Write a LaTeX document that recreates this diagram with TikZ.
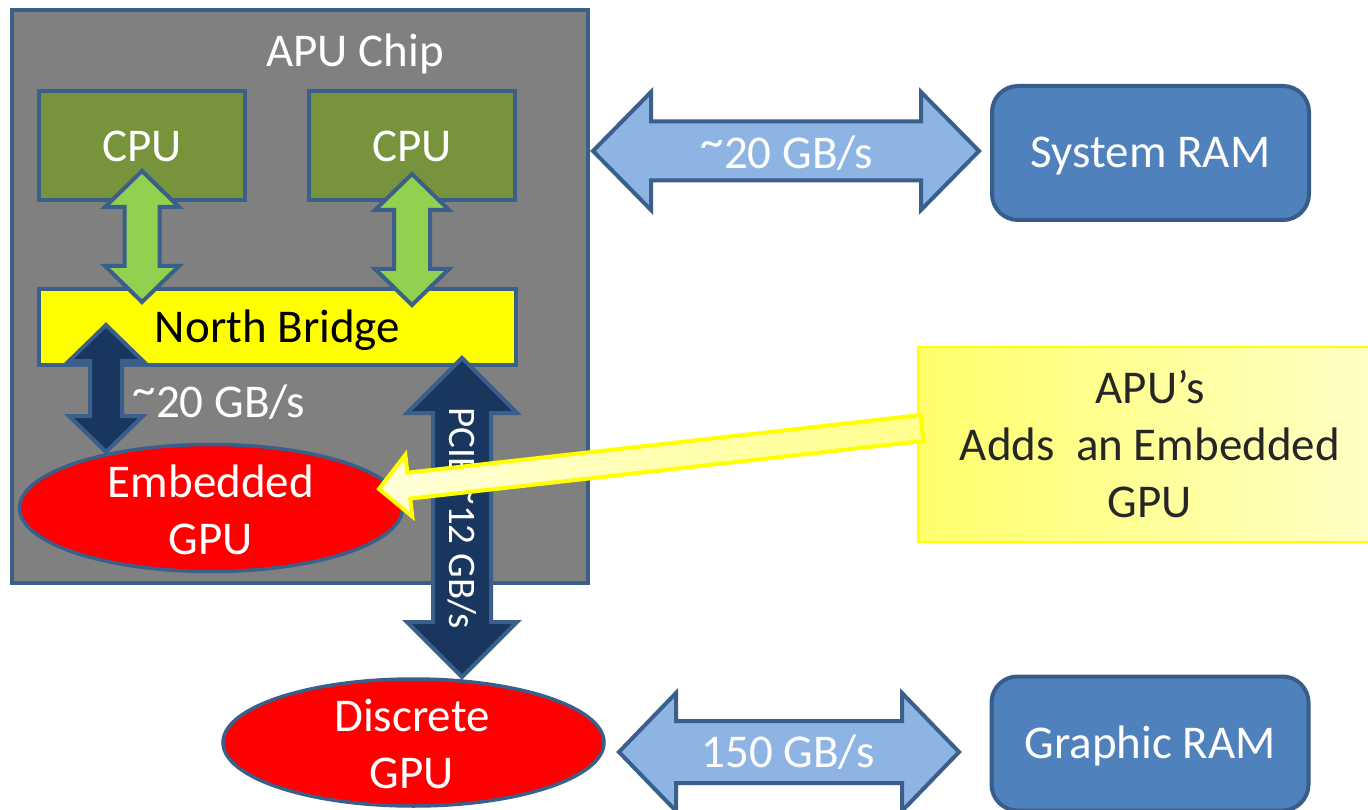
\documentclass[tikz,border=0pt]{standalone}
\usepackage{fontspec}
\setmainfont{Carlito}
\usetikzlibrary{calc,shapes.geometric}
\definecolor{bord}{HTML}{3A5F8B}
\definecolor{chipgray}{HTML}{808080}
\definecolor{cpugreen}{HTML}{77933C}
\definecolor{argreen}{HTML}{92D050}
\definecolor{navy}{HTML}{18365E}
\definecolor{lblue}{HTML}{8EB4E3}
\definecolor{ramblue}{HTML}{4F81BD}
\definecolor{ramborder}{HTML}{385D8A}
\definecolor{txtdark}{HTML}{262626}
\definecolor{nbyellow}{HTML}{FFFF00}
\newcommand\bigf{\fontsize{47}{57}\selectfont}
\newcommand\pcief{\fontsize{39}{47}\selectfont}
\newcommand\tld{\raisebox{0.25em}{\textasciitilde}}
% block double arrow: style, end A, end B, shaft half width, head half width, head length
\newcommand\dblarrow[6]{%
  \coordinate (da1) at ($(#2)!#6!(#3)$);
  \coordinate (da2) at ($(#3)!#6!(#2)$);
  \path[#1] (#2) -- ($(da1)!#5!90:(#3)$) -- ($(da1)!#4!90:(#3)$)
    -- ($(da2)!#4!-90:(#2)$) -- ($(da2)!#5!-90:(#2)$) -- (#3)
    -- ($(da2)!#5!90:(#2)$) -- ($(da2)!#4!90:(#2)$)
    -- ($(da1)!#4!-90:(#3)$) -- ($(da1)!#5!-90:(#3)$) -- cycle;
}
% block single arrow: style, tail, tip, shaft half width, head half width, head length
\newcommand\sglarrow[6]{%
  \coordinate (sa1) at ($(#3)!#6!(#2)$);
  \path[#1] ($(#2)!#4!90:(#3)$) -- ($(sa1)!#4!-90:(#2)$) -- ($(sa1)!#5!-90:(#2)$)
    -- (#3) -- ($(sa1)!#5!90:(#2)$) -- ($(sa1)!#4!90:(#2)$)
    -- ($(#2)!#4!-90:(#3)$) -- cycle;
}
\tikzset{
  capline/.style={text height=30pt, text depth=0pt},
  chipbox/.style={draw=bord, line width=4pt, fill=chipgray, minimum width=576pt, minimum height=573pt, inner sep=0pt},
  cpubox/.style={draw=bord, line width=4pt, fill=cpugreen, minimum width=206pt, minimum height=109pt, inner sep=0pt, text=white, font=\bigf, text height=33pt, text depth=0pt},
  nbbox/.style={draw=bord, line width=4pt, fill=nbyellow, minimum width=477pt, minimum height=76pt, inner sep=0pt, text=black, font=\bigf, text height=31pt, text depth=0pt},
  gpuell/.style={ellipse, draw=bord, line width=3.5pt, fill=red, inner sep=0pt},
  whitetxt/.style={text=white, font=\bigf, align=center, inner sep=0pt},
  rambox/.style={draw=ramborder, line width=4pt, fill=ramblue, rounded corners=26pt, minimum width=317pt, minimum height=134pt, inner sep=0pt, text=white, font=\bigf, capline},
  greenarrow/.style={draw=bord, line width=4pt, fill=argreen},
  navyarrow/.style={draw=bord, line width=4pt, fill=navy},
  bluearrow/.style={draw=bord, line width=4pt, fill=lblue},
  calloutbox/.style={draw=nbyellow, line width=2pt, left color=yellow!58, right color=yellow!22, minimum width=464pt, minimum height=195pt, inner sep=0pt, text=txtdark, font=\bigf, align=center},
  calloutarrow/.style={draw=nbyellow, line width=4pt, left color=yellow!15, right color=yellow!45},
}
\begin{document}
\begin{tikzpicture}[x=1pt,y=-1pt]
\clip (0,0) rectangle (1368,810);
\fill[white] (0,0) rectangle (1368,810);
% APU chip
\node[chipbox] (apu) at (300,296.5) {};
\node[whitetxt, capline] (apulabel) at (355,52) {APU Chip};
\node[cpubox] (cpu1) at (142,145.5) {CPU};
\node[cpubox] (cpu2) at (412,145.5) {CPU};
\node[nbbox] (nb) at (277.5,327) {North Bridge};
\node[gpuell, minimum width=383pt, minimum height=127pt] (egpu) at (211,508) {};
\node[whitetxt] (egputxt) at (211,510) {Embedded\\GPU};
% CPU <-> North Bridge
\coordinate (g1a) at (142,171);
\coordinate (g1b) at (142,302);
\coordinate (g2a) at (412,174);
\coordinate (g2b) at (412,305);
\dblarrow{greenarrow}{g1a}{g1b}{17.5pt}{37pt}{36pt}
\dblarrow{greenarrow}{g2a}{g2b}{18pt}{37pt}{36pt}
% North Bridge <-> Embedded GPU
\coordinate (n1a) at (106,325);
\coordinate (n1b) at (106,452);
\dblarrow{navyarrow}{n1a}{n1b}{16pt}{37pt}{36pt}
\node[whitetxt, capline] (nbgpulabel) at (219,402) {\tld20 GB/s};
% System RAM
\node[rambox] (sysram) at (1150.5,153) {System RAM};
\coordinate (s1a) at (593,151);
\coordinate (s1b) at (979,151);
\dblarrow{bluearrow}{s1a}{s1b}{29.5pt}{59pt}{58pt}
\node[whitetxt, capline] (sysramlabel) at (787,154) {\tld20 GB/s};
% Discrete GPU
\node[gpuell, minimum width=381pt, minimum height=127pt] (dgpu) at (413.5,742.5) {};
\node[whitetxt] (dgputxt) at (412,744) {Discrete\\GPU};
\coordinate (p1a) at (462,358);
\coordinate (p1b) at (462,677);
\dblarrow{navyarrow}{p1a}{p1b}{29pt}{55pt}{55pt}
\node[text=white, font=\pcief, inner sep=0pt, rotate=-90, text height=25pt, text depth=0pt] (pcielabel) at (462,518) {PCIE \tld12 GB/s};
% Graphic RAM
\node[rambox] (gram) at (1150,743.5) {Graphic RAM};
\coordinate (b1a) at (619,752);
\coordinate (b1b) at (959,752);
\dblarrow{bluearrow}{b1a}{b1b}{31pt}{59pt}{57pt}
\node[whitetxt, capline] (gramlabel) at (788,752.5) {150 GB/s};
% Callout
\node[calloutbox] (callout) at (1150,444.5) {APU’s\\Adds\ \ an Embedded\\GPU};
\coordinate (ytail) at (922,428);
\coordinate (ytip) at (379,489);
\sglarrow{calloutarrow}{ytail}{ytip}{13pt}{31pt}{30pt}
\end{tikzpicture}
\end{document}
